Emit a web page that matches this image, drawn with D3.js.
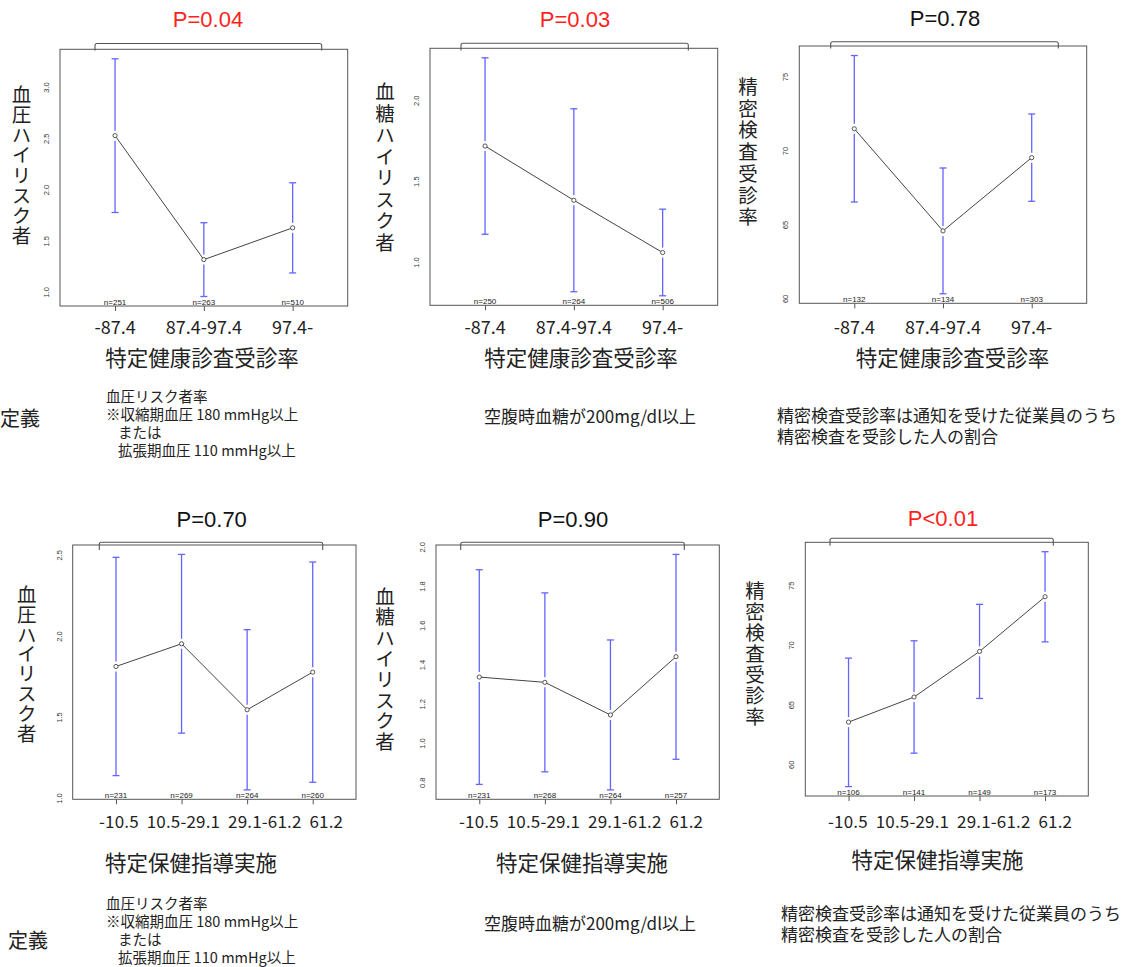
<!DOCTYPE html>
<html>
<head>
<meta charset="utf-8">
<script src="https://cdnjs.cloudflare.com/ajax/libs/d3/7.8.5/d3.min.js"></script>
<style>
  body { margin: 0; background: #fff; }
  svg { display: block; }
  .jp { font-family: "Noto Sans CJK JP", "Noto Sans", sans-serif; fill: #222; }
  .num { font-family: "Liberation Sans", Arial, sans-serif; }
  .vert { writing-mode: vertical-rl; text-orientation: upright; }
  .note { font-family: "Noto Sans CJK JP", "Noto Sans", sans-serif; color: #222; white-space: pre; }
</style>
</head>
<body>
<script>
// group labels
const healthCheckGroups = ['-87.4', '87.4-97.4', '97.4-'];
const guidanceGroups = ['-10.5', '10.5-29.1', '29.1-61.2', '61.2'];

// top row: by 特定健康診査受診率
const bpMeanTop = [2.53, 1.32, 1.63];
const bpLowTop = [1.78, 0.96, 1.19];
const bpHighTop = [3.28, 1.68, 2.07];
const bpNTop = [251, 263, 510];

const sugarMeanTop = [1.72, 1.385, 1.062];
const sugarLowTop = [1.175, 0.82, 0.795];
const sugarHighTop = [2.265, 1.95, 1.33];
const sugarNTop = [250, 264, 506];

const examMeanTop = [71.5, 64.6, 69.55];
const examLowTop = [66.55, 60.35, 66.6];
const examHighTop = [76.45, 68.85, 72.5];
const examNTop = [132, 134, 303];

// bottom row: by 特定保健指導実施
const bpMeanBottom = [1.815, 1.955, 1.548, 1.78];
const bpLowBottom = [1.142, 1.404, 1.054, 1.101];
const bpHighBottom = [2.488, 2.506, 2.042, 2.459];
const bpNBottom = [231, 269, 264, 260];

const sugarMeanBottom = [1.339, 1.312, 1.146, 1.443];
const sugarLowBottom = [0.792, 0.856, 0.764, 0.92];
const sugarHighBottom = [1.886, 1.768, 1.528, 1.964];
const sugarNBottom = [231, 268, 264, 257];

const examMeanBottom = [63.58, 65.68, 69.5, 74.08];
const examLowBottom = [58.18, 60.98, 65.56, 70.3];
const examHighBottom = [68.94, 70.39, 73.44, 77.85];
const examNBottom = [106, 141, 149, 173];

// y tick labels
const bpTicksTop = [1.0, 1.5, 2.0, 2.5, 3.0];
const sugarTicksTop = [1.0, 1.5, 2.0];
const examTicks = [60, 65, 70, 75];
const bpTicksBottom = [1.0, 1.5, 2.0, 2.5];
const sugarTicksBottom = [0.8, 1.0, 1.2, 1.4, 1.6, 1.8, 2.0];

const pTitles = ['P=0.04', 'P=0.03', 'P=0.78', 'P=0.70', 'P=0.90', 'P<0.01'];
const pSignificant = [true, true, false, false, false, true];

const bpDef = ['血圧リスク者率', '※収縮期血圧 180 mmHg以上', 'または', '拡張期血圧 110 mmHg以上'];
const sugarDef = ['空腹時血糖が200mg/dl以上'];
const examDef = ['精密検査受診率は通知を受けた従業員のうち', '精密検査を受診した人の割合'];

const panels = [
  { cats: healthCheckGroups, mean: bpMeanTop, lo: bpLowTop, hi: bpHighTop, n: bpNTop, ticks: bpTicksTop,
    ylab: '血圧ハイリスク者', xlab: '特定健康診査受診率',
    box: [60, 347.7, 49.3, 306], br: [95, 321.7, 43.5, 50.5], title: [208, 27],
    yl: [21.5, 85, 20.2], xl: [202, 366], catY: 334, joined: false },
  { cats: healthCheckGroups, mean: sugarMeanTop, lo: sugarLowTop, hi: sugarHighTop, n: sugarNTop, ticks: sugarTicksTop,
    ylab: '血糖ハイリスク者', xlab: '特定健康診査受診率',
    box: [430, 717.7, 48.3, 305.3], br: [461, 688.3, 43.3, 50.5], title: [575, 27],
    yl: [385, 83, 21.5], xl: [581, 366], catY: 334, joined: false },
  { cats: healthCheckGroups, mean: examMeanTop, lo: examLowTop, hi: examHighTop, n: examNTop, ticks: examTicks,
    ylab: '精密検査受診率', xlab: '特定健康診査受診率',
    box: [799.3, 1086.7, 46, 303.3], br: [830.7, 1058.3, 41.7, 48.5], title: [945, 26],
    yl: [748, 78, 21.7], xl: [952.5, 366], catY: 334, joined: false },
  { cats: guidanceGroups, mean: bpMeanBottom, lo: bpLowBottom, hi: bpHighBottom, n: bpNBottom, ticks: bpTicksBottom,
    ylab: '血圧ハイリスク者', xlab: '特定保健指導実施',
    box: [72.7, 356, 545, 799.3], br: [99.3, 322.7, 542.3, 550], title: [211.7, 526.5],
    yl: [26.7, 585, 19.8], xl: [191, 871], catY: 828, joined: true, catX: 221 },
  { cats: guidanceGroups, mean: sugarMeanBottom, lo: sugarLowBottom, hi: sugarHighBottom, n: sugarNBottom, ticks: sugarTicksBottom,
    ylab: '血糖ハイリスク者', xlab: '特定保健指導実施',
    box: [436, 719.3, 545, 799.3], br: [460.7, 684.3, 542.3, 550], title: [573, 527],
    yl: [385, 587, 20.8], xl: [582, 871], catY: 828, joined: true, catX: 581 },
  { cats: guidanceGroups, mean: examMeanBottom, lo: examLowBottom, hi: examHighBottom, n: examNBottom, ticks: examTicks,
    ylab: '精密検査受診率', xlab: '特定保健指導実施',
    box: [805.3, 1088.3, 542.3, 796], br: [830, 1053.3, 538.3, 545.7], title: [943, 526],
    yl: [755, 582, 20.9], xl: [937.5, 868], catY: 828, joined: true, catX: 950 }
];

const svg = d3.select('body').append('svg')
  .attr('width', 1128)
  .attr('height', 967);

svg.append('rect').attr('width', 1128).attr('height', 967).attr('fill', '#fff');

panels.forEach((p, k) => drawPanel(p, k));

function drawPanel(p, k) {
  const g = svg.append('g');
  const [bx0, bx1, by0, by1] = p.box;
  const n = p.cats.length;
  const idx = d3.range(1, n + 1);

  // plotmeans-like limits: groups at 1..n, xlim 0.5..n+0.5, both padded 4%
  const x = d3.scaleLinear().domain([0.5 - 0.04 * n, n + 0.5 + 0.04 * n]).range([bx0, bx1]);
  const lo = d3.min(p.lo), hi = d3.max(p.hi), r = hi - lo;
  const y = d3.scaleLinear().domain([lo - 0.04 * r, hi + 0.04 * r]).range([by1, by0]);

  g.append('rect')
    .attr('x', bx0).attr('y', by0)
    .attr('width', bx1 - bx0).attr('height', by1 - by0)
    .attr('fill', 'none').attr('stroke', '#555').attr('stroke-width', 1);

  // x tick marks
  const xAxis = g.append('g')
    .attr('transform', `translate(0,${by1})`)
    .call(d3.axisBottom(x).tickValues(idx).tickSize(5).tickFormat(''));
  xAxis.select('.domain').remove();
  xAxis.selectAll('line').attr('stroke', '#555');

  // y tick labels (rotated, no ticks)
  g.selectAll('.ytick')
    .data(p.ticks)
    .enter().append('text')
    .attr('class', 'num')
    .attr('transform', d => `translate(${bx0 - 11},${y(d)}) rotate(-90)`)
    .attr('text-anchor', 'middle')
    .style('font-size', '7.5px')
    .style('fill', '#333')
    .text(d => (k === 2 || k === 5) ? d3.format('d')(d) : d3.format('.1f')(d));

  // error bars, broken around the point
  const gap = 5, cap = 3.5;
  const bars = g.selectAll('.bar')
    .data(idx)
    .enter().append('g')
    .attr('stroke', '#6464ff')
    .attr('stroke-width', 1.3);
  bars.append('line')
    .attr('x1', i => x(i)).attr('x2', i => x(i))
    .attr('y1', i => y(p.hi[i - 1])).attr('y2', i => y(p.mean[i - 1]) - gap);
  bars.append('line')
    .attr('x1', i => x(i)).attr('x2', i => x(i))
    .attr('y1', i => y(p.mean[i - 1]) + gap).attr('y2', i => y(p.lo[i - 1]));
  bars.append('line')
    .attr('x1', i => x(i) - cap).attr('x2', i => x(i) + cap)
    .attr('y1', i => y(p.hi[i - 1])).attr('y2', i => y(p.hi[i - 1]));
  bars.append('line')
    .attr('x1', i => x(i) - cap).attr('x2', i => x(i) + cap)
    .attr('y1', i => y(p.lo[i - 1])).attr('y2', i => y(p.lo[i - 1]));

  // mean line and points
  const line = d3.line().x(i => x(i)).y(i => y(p.mean[i - 1]));
  g.append('path')
    .datum(idx)
    .attr('d', line)
    .attr('fill', 'none')
    .attr('stroke', '#444')
    .attr('stroke-width', 1);
  g.selectAll('.pt')
    .data(idx)
    .enter().append('circle')
    .attr('cx', i => x(i)).attr('cy', i => y(p.mean[i - 1]))
    .attr('r', 2.1)
    .attr('fill', '#fff')
    .attr('stroke', '#444')
    .attr('stroke-width', 0.9);

  // n labels
  g.selectAll('.nlab')
    .data(idx)
    .enter().append('text')
    .attr('class', 'num')
    .attr('x', i => x(i)).attr('y', by1 - 1.5)
    .attr('text-anchor', 'middle')
    .style('font-size', '8px')
    .style('fill', '#222')
    .text(i => 'n=' + p.n[i - 1]);

  // bracket over the groups
  const [u0, u1, uy, uleg] = p.br;
  g.append('path')
    .attr('d', `M${u0},${uleg} L${u0},${uy + 2} Q${u0},${uy} ${u0 + 2},${uy} L${u1 - 2},${uy} Q${u1},${uy} ${u1},${uy + 2} L${u1},${uleg}`)
    .attr('fill', 'none')
    .attr('stroke', '#555')
    .attr('stroke-width', 1.1);

  // P value title
  g.append('text')
    .attr('class', 'num')
    .attr('x', p.title[0]).attr('y', p.title[1])
    .attr('text-anchor', 'middle')
    .style('font-size', '22px')
    .style('fill', pSignificant[k] ? '#ff1f1f' : '#111')
    .text(pTitles[k]);

  // vertical y title, written top to bottom
  const [yx, ytop, pitch] = p.yl;
  const fs = 19.5;
  g.append('text')
    .attr('class', 'jp vert')
    .attr('x', yx)
    .attr('y', ytop - (pitch - fs) / 2)
    .style('font-size', fs + 'px')
    .style('letter-spacing', (pitch - fs) + 'px')
    .text(p.ylab);

  // category labels
  if (p.joined) {
    g.append('text')
      .attr('class', 'jp')
      .attr('x', p.catX).attr('y', p.catY)
      .attr('text-anchor', 'middle')
      .attr('textLength', 244)
      .attr('lengthAdjust', 'spacing')
      .style('font-size', '17px')
      .style('white-space', 'pre')
      .text(p.cats.join('  '));
  } else {
    g.selectAll('.cat')
      .data(idx)
      .enter().append('text')
      .attr('class', 'jp')
      .attr('x', i => x(i)).attr('y', p.catY)
      .attr('text-anchor', 'middle')
      .style('font-size', '18px')
      .text(i => p.cats[i - 1]);
  }

  // x title
  g.append('text')
    .attr('class', 'jp')
    .attr('x', p.xl[0]).attr('y', p.xl[1])
    .attr('text-anchor', 'middle')
    .style('font-size', '21.5px')
    .text(p.xlab);
}

// multi-line definition notes as html blocks with tight line height
function note(lines, left, top, size, lh, indents) {
  const fo = svg.append('foreignObject')
    .attr('x', left).attr('y', top)
    .attr('width', 1128 - left).attr('height', lines.length * lh + 4);
  const div = fo.append('xhtml:div')
    .attr('class', 'note')
    .style('font-size', size + 'px')
    .style('line-height', lh + 'px');
  lines.forEach((t, i) => {
    div.append('xhtml:div')
      .style('padding-left', (indents ? indents[i] : 0) + 'px')
      .text(t);
  });
}

svg.append('text').attr('class', 'jp').attr('x', 0).attr('y', 426).style('font-size', '20px').text('定義');
svg.append('text').attr('class', 'jp').attr('x', 8).attr('y', 948).style('font-size', '20px').text('定義');

note(bpDef, 106, 386.5, 14.5, 18, [0, 0, 12, 12]);
note(sugarDef, 484, 405, 17, 22);
note(examDef, 777, 404, 17, 21);

note(bpDef, 106, 893.5, 14.5, 18, [0, 0, 12, 12]);
note(sugarDef, 484, 912, 17, 22);
note(examDef, 781, 902, 17, 21);
</script>
</body>
</html>
